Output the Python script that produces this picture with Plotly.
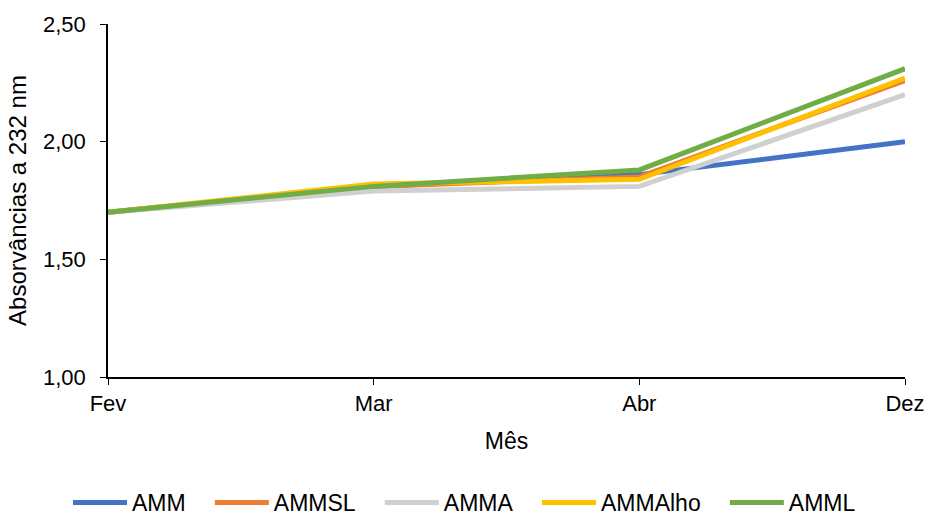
import plotly.graph_objects as go

months = ["Fev", "Mar", "Abr", "Dez"]
amm = [1.70, 1.81, 1.86, 2.00]
ammsl = [1.70, 1.81, 1.85, 2.26]
amma = [1.70, 1.79, 1.81, 2.20]
ammalho = [1.70, 1.82, 1.84, 2.27]
amml = [1.70, 1.81, 1.88, 2.31]

series = [
    ("AMM", amm, "#4472C4"),
    ("AMMSL", ammsl, "#ED7D31"),
    ("AMMA", amma, "#D0D0D0"),
    ("AMMAlho", ammalho, "#FFC000"),
    ("AMML", amml, "#70AD47"),
]

font = "Liberation Sans, Arial, sans-serif"
pad = "\u00a0" * 3

fig = go.Figure()
for i, (name, vals, color) in enumerate(series):
    label = name if i == len(series) - 1 else name + pad
    fig.add_trace(go.Scatter(
        x=months, y=vals, name=label, mode="lines",
        line=dict(color=color, width=5),
    ))

fig.update_layout(
    width=929, height=518,
    margin=dict(l=108, r=24, t=24, b=141),
    paper_bgcolor="white", plot_bgcolor="white",
    font=dict(family=font, size=22, color="#000000"),
    separators=",.",
    showlegend=True,
    legend=dict(
        orientation="h", xref="container", yref="container",
        x=0.5, xanchor="center", y=0.03, yanchor="middle",
        font=dict(size=23), itemwidth=54, tracegroupgap=0,
    ),
    xaxis=dict(
        type="category", range=[0, 3], automargin=False,
        showgrid=False, showline=True, linecolor="black", linewidth=1.5,
        ticks="outside", ticklen=6, tickcolor="black",
        tickfont=dict(size=22),
        title=dict(text="Mês", standoff=18, font=dict(size=23)),
        zeroline=False,
    ),
    yaxis=dict(
        range=[1.0, 2.5], tickvals=[1.0, 1.5, 2.0, 2.5], tickformat=".2f",
        automargin=False, ticklabelstandoff=10,
        showgrid=False, showline=True, linecolor="black", linewidth=1.5,
        ticks="outside", ticklen=6, tickcolor="black",
        tickfont=dict(size=22),
        title=dict(text="Absorvâncias a 232 nm", standoff=10, font=dict(size=24)),
        zeroline=False,
    ),
)

fig.write_html("out.html")
